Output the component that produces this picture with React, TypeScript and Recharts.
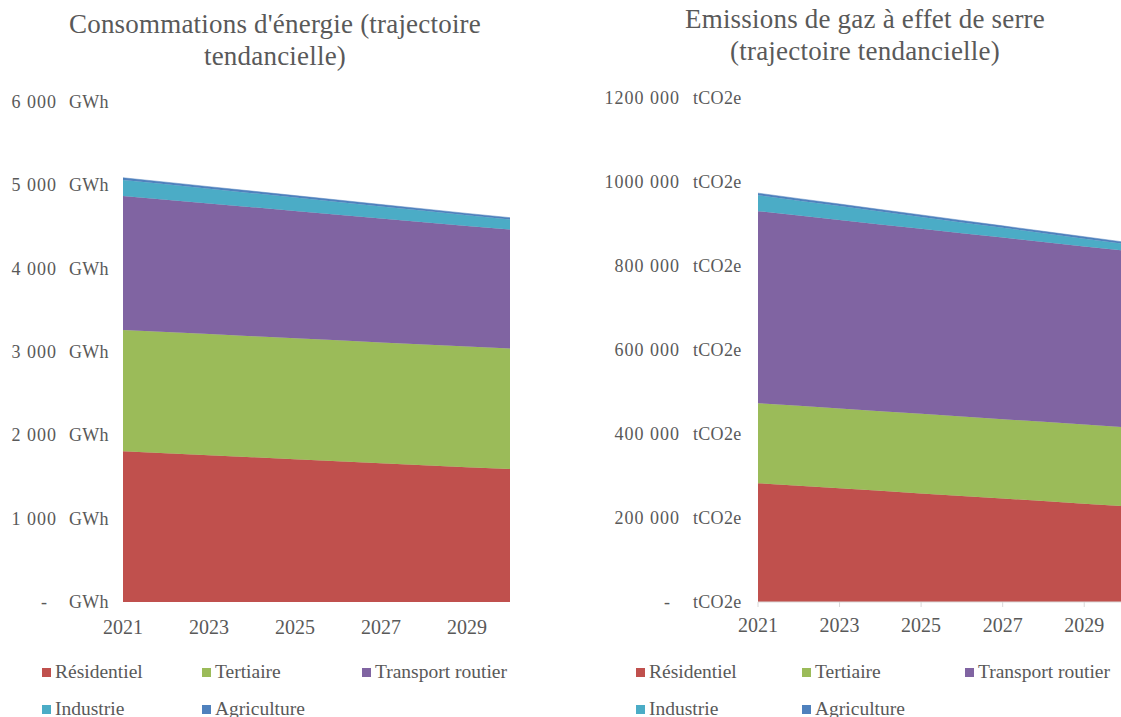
import React from "react";
import { AreaChart, Area, XAxis, YAxis } from "recharts";

// years on the x axis
const years = [2021, 2022, 2023, 2024, 2025, 2026, 2027, 2028, 2029, 2030];
const yearTicks = [2021, 2023, 2025, 2027, 2029];

// energy consumption, GWh
const energyResidentiel = [1810, 1786, 1762, 1738, 1714, 1690, 1666, 1642, 1618, 1596];
const energyTertiaire = [1455, 1454, 1453, 1452, 1451, 1450, 1449, 1448, 1447, 1446];
const energyTransport = [1608, 1588, 1568, 1548, 1528, 1508, 1488, 1468, 1448, 1428];
const energyIndustrie = [192, 184, 176, 168, 160, 152, 144, 136, 128, 120];
const energyAgriculture = [26, 26, 25, 25, 24, 24, 23, 23, 22, 22];
const energyTicks = [0, 1000, 2000, 3000, 4000, 5000, 6000];

// greenhouse gas emissions, tCO2e
const gesResidentiel = [283000, 276900, 270800, 264700, 258600, 252500, 246400, 240300, 234200, 228100];
const gesTertiaire = [190500, 190200, 190000, 189700, 189400, 189100, 188800, 188600, 188300, 188000];
const gesTransport = [457000, 452900, 448800, 444700, 440600, 436500, 432400, 428300, 424200, 420100];
const gesIndustrie = [38000, 35500, 33100, 30600, 28200, 25700, 23300, 20800, 18400, 16000];
const gesAgriculture = [5000, 4900, 4900, 4800, 4800, 4700, 4700, 4600, 4600, 4500];
const gesTicks = [0, 200000, 400000, 600000, 800000, 1000000, 1200000];

const sectors = [
  { key: "residentiel", name: "Résidentiel", color: "#C0504D" },
  { key: "tertiaire", name: "Tertiaire", color: "#9BBB59" },
  { key: "transport", name: "Transport routier", color: "#8064A2" },
  { key: "industrie", name: "Industrie", color: "#4BACC6" },
  { key: "agriculture", name: "Agriculture", color: "#4F81BD" },
];

const energyData = years.map((year, i) => ({
  year,
  residentiel: energyResidentiel[i],
  tertiaire: energyTertiaire[i],
  transport: energyTransport[i],
  industrie: energyIndustrie[i],
  agriculture: energyAgriculture[i],
}));

const gesData = years.map((year, i) => ({
  year,
  residentiel: gesResidentiel[i],
  tertiaire: gesTertiaire[i],
  transport: gesTransport[i],
  industrie: gesIndustrie[i],
  agriculture: gesAgriculture[i],
}));

const FONT = "'Liberation Serif', 'DejaVu Serif', serif";
const TEXT = "#595959";

// "6 000", "1200 000", "-" for zero
function formatNumber(v: number) {
  if (v === 0) return "-";
  const s = String(v);
  return s.slice(0, -3) + " " + s.slice(-3);
}

function makeYTick(numEnd: number, unitStart: number, unit: string) {
  return (props: any) => {
    const { y, payload } = props;
    const isZero = payload.value === 0;
    return (
      <g>
        <text
          x={isZero ? numEnd - 10 : numEnd}
          y={y}
          dy={6}
          textAnchor="end"
          fontSize={18}
          letterSpacing={isZero ? 0 : 1}
          fill={TEXT}
          fontFamily={FONT}
        >
          {formatNumber(payload.value)}
        </text>
        <text x={unitStart} y={y} dy={6} textAnchor="start" fontSize={18} letterSpacing={0.3} fill={TEXT} fontFamily={FONT}>
          {unit}
        </text>
      </g>
    );
  };
}

function Legend({ left, cols }: { left: number; cols: number[] }) {
  return (
    <div style={{ position: "absolute", left, top: 661, fontFamily: FONT, fontSize: 19.5, color: TEXT }}>
      {sectors.map((s, i) => (
        <div
          key={s.key}
          style={{
            position: "absolute",
            left: cols[i % 3],
            top: i < 3 ? 0 : 37,
            whiteSpace: "nowrap",
            display: "flex",
            alignItems: "center",
          }}
        >
          <span style={{ display: "inline-block", width: 9, height: 9, background: s.color, marginRight: 4 }} />
          <span>{s.name}</span>
        </div>
      ))}
    </div>
  );
}

function Title({ center, top, lines }: { center: number; top: number; lines: string[] }) {
  return (
    <div
      style={{
        position: "absolute",
        left: center - 280,
        width: 560,
        top,
        textAlign: "center",
        fontFamily: FONT,
        fontSize: 27,
        letterSpacing: 0.2,
        lineHeight: "32px",
        color: TEXT,
      }}
    >
      {lines.map((l) => (
        <div key={l}>{l}</div>
      ))}
    </div>
  );
}

function StackedAreas() {
  return sectors.map((s) => (
    <Area
      key={s.key}
      type="linear"
      dataKey={s.key}
      name={s.name}
      stackId="1"
      stroke={s.color}
      strokeWidth={0.5}
      fill={s.color}
      fillOpacity={1}
      isAnimationActive={false}
    />
  ));
}

const yearTick = { fontSize: 20, fill: TEXT, fontFamily: FONT };

export default function App() {
  return (
    <div
      style={{
        position: "fixed",
        left: 0,
        top: 0,
        width: 1121,
        height: 717,
        overflow: "hidden",
        background: "#fff",
      }}
    >
      <Title center={275} top={8} lines={["Consommations d'énergie (trajectoire", "tendancielle)"]} />
      <Title center={865} top={3} lines={["Emissions de gaz à effet de serre", "(trajectoire tendancielle)"]} />

      <div style={{ position: "absolute", left: 0, top: 0, width: 560, height: 717 }}>
        <AreaChart width={560} height={717} data={energyData} margin={{ top: 102, right: 50, bottom: 75, left: 0 }}>
          <XAxis
            dataKey="year"
            type="number"
            domain={[2021, 2030]}
            ticks={yearTicks}
            axisLine={false}
            tickLine={false}
            height={40}
            tick={yearTick}
            tickMargin={12}
          />
          <YAxis
            width={123}
            domain={[0, 6000]}
            ticks={energyTicks}
            axisLine={false}
            tickLine={false}
            tick={makeYTick(57, 69, "GWh")}
          />
          {StackedAreas()}
        </AreaChart>
      </div>

      <div style={{ position: "absolute", left: 560, top: 0, width: 580, height: 717 }}>
        <AreaChart width={580} height={717} data={gesData} margin={{ top: 98, right: 15, bottom: 75, left: 0 }}>
          <XAxis
            dataKey="year"
            type="number"
            domain={[2021, 2030]}
            ticks={yearTicks}
            axisLine={{ stroke: "#D9D9D9" }}
            tickLine={{ stroke: "#D9D9D9" }}
            tickSize={5}
            height={40}
            tick={yearTick}
            tickMargin={11}
          />
          <YAxis
            width={198}
            domain={[0, 1200000]}
            ticks={gesTicks}
            axisLine={false}
            tickLine={false}
            tick={makeYTick(120, 133, "tCO2e")}
          />
          {StackedAreas()}
        </AreaChart>
      </div>

      <Legend left={42} cols={[0, 160, 320]} />
      <Legend left={636} cols={[0, 166, 329]} />
    </div>
  );
}
